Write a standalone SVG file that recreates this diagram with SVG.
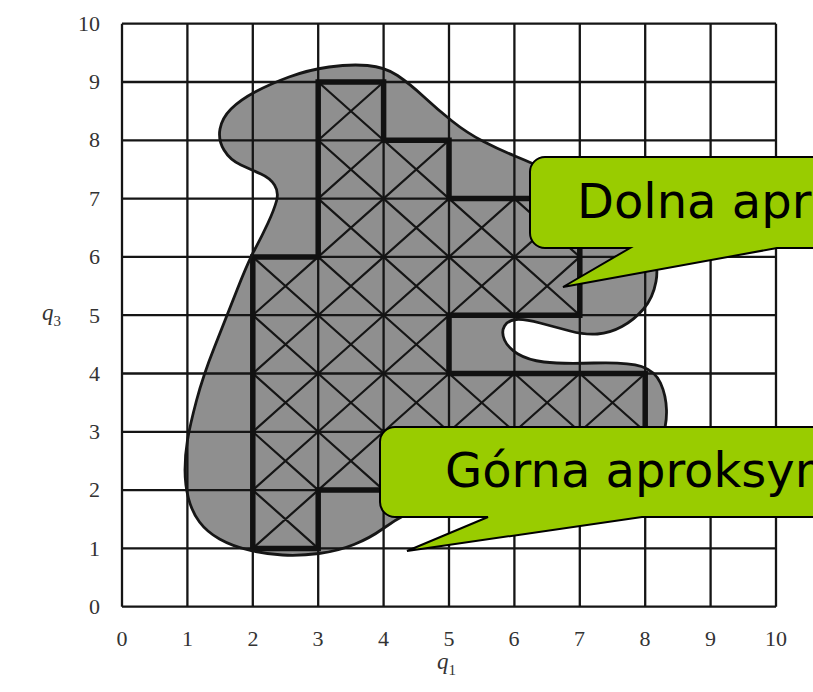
<svg xmlns="http://www.w3.org/2000/svg" width="813" height="692" viewBox="0 0 813 692">
<style>
.tick{font-family:"Liberation Serif","Times New Roman",serif;font-size:22px;fill:#333}
.q{font-family:"Liberation Serif","Times New Roman",serif;font-size:23px;font-style:italic;fill:#333}
.sub{font-size:15px;font-style:normal}
.grid{fill:none;stroke:#151515;stroke-width:2.3}
.diag{fill:none;stroke:#151515;stroke-width:2.2}
.thick{fill:none;stroke:#111;stroke-width:5.5;stroke-linejoin:miter}
.callout{fill:#99cc00;stroke:#000;stroke-width:2;stroke-linejoin:miter}
.ctext{font-family:"DejaVu Sans",Verdana,sans-serif;font-size:48px;fill:#000}
</style>
<defs>
<path id="blob" d="M224,150 Q218,140 220,129 Q222,118 231,109 Q240,100 255,92 Q270,84 289,77 Q308,70 329,67 Q350,64 367.5,65.5 Q385,67 397.5,75.5 Q410,84 423.5,96.5 Q437,109 452,121 Q467,133 483.5,141.5 Q500,150 516,156.5 Q532,163 553.5,173 Q575,183 595,195.5 Q615,208 630,221.5 Q645,235 652,250 Q659,265 656,281.5 Q653,298 643.5,309 Q634,320 622,326.5 Q610,333 597.5,334 Q585,335 570,331 Q555,327 540,323 Q525,319 516.5,319.5 Q508,320 504.5,326 Q501,332 504.5,340 Q508,348 518,354 Q528,360 544,362 Q560,364 594,363 Q628,362 641.5,366.5 Q655,371 660.5,383 Q666,395 666.5,410 Q667,425 661,442.5 Q655,460 635,472 Q615,484 582.5,489.5 Q550,495 510,497.5 Q470,500 445,503.5 Q420,507 407.5,513.5 Q395,520 382.5,529 Q370,538 354,544.5 Q338,551 319,553.5 Q300,556 282.5,555 Q265,554 248.5,550 Q232,546 219.5,539 Q207,532 199.5,522 Q192,512 188.5,498.5 Q185,485 185,470 Q185,455 187.5,440 Q190,425 196.5,400.5 Q203,376 214.5,347 Q226,318 237,290 Q248,262 255,249 Q262,236 268,223 Q274,210 276.5,201 Q279,192 274.5,185 Q270,178 261,174 Q252,170 241,165 Q230,160 224,150 Z"/>
</defs>
<rect id="background" x="0" y="0" width="813" height="692" fill="#ffffff"/>
<g id="region-fill">
<use href="#blob" fill="#8f8f8f" stroke="none"/>
</g>
<g id="grid" transform="translate(122,606.7) scale(65.4,-58.3)">
<path class="grid" vector-effect="non-scaling-stroke" d="M0 0V10M1 0V10M2 0V10M3 0V10M4 0V10M5 0V10M6 0V10M7 0V10M8 0V10M9 0V10M10 0V10M0 0H10M0 1H10M0 2H10M0 3H10M0 4H10M0 5H10M0 6H10M0 7H10M0 8H10M0 9H10M0 10H10"/>
</g>
<g id="lower-approx" transform="translate(122,606.7) scale(65.4,-58.3)">
<path class="diag" vector-effect="non-scaling-stroke" d="M3 8l1 1m0-1l-1 1M3 7l1 1m0-1l-1 1M4 7l1 1m0-1l-1 1M3 6l1 1m0-1l-1 1M4 6l1 1m0-1l-1 1M5 6l1 1m0-1l-1 1M6 6l1 1m0-1l-1 1M2 5l1 1m0-1l-1 1M3 5l1 1m0-1l-1 1M4 5l1 1m0-1l-1 1M5 5l1 1m0-1l-1 1M6 5l1 1m0-1l-1 1M2 4l1 1m0-1l-1 1M3 4l1 1m0-1l-1 1M4 4l1 1m0-1l-1 1M2 3l1 1m0-1l-1 1M3 3l1 1m0-1l-1 1M4 3l1 1m0-1l-1 1M5 3l1 1m0-1l-1 1M6 3l1 1m0-1l-1 1M7 3l1 1m0-1l-1 1M2 2l1 1m0-1l-1 1M3 2l1 1m0-1l-1 1M2 1l1 1m0-1l-1 1"/>
<path class="thick" vector-effect="non-scaling-stroke" d="M3 9H4V8H5V7H7V5H5V4H8V3H4V2H3V1H2V6H3Z"/>
</g>
<g id="region-outline">
<use href="#blob" fill="none" stroke="#161616" stroke-width="2.8"/>
</g>
<g id="y-labels" class="tick" text-anchor="end">
<text x="100" y="31">10</text>
<text x="100" y="89">9</text>
<text x="100" y="147">8</text>
<text x="100" y="206">7</text>
<text x="100" y="264">6</text>
<text x="100" y="323">5</text>
<text x="100" y="381">4</text>
<text x="100" y="439">3</text>
<text x="100" y="497">2</text>
<text x="100" y="556">1</text>
<text x="100" y="614">0</text>
</g>
<g id="x-labels" class="tick" text-anchor="middle">
<text x="122" y="646">0</text>
<text x="187.5" y="646">1</text>
<text x="253" y="646">2</text>
<text x="318" y="646">3</text>
<text x="383.5" y="646">4</text>
<text x="449" y="646">5</text>
<text x="514" y="646">6</text>
<text x="579.5" y="646">7</text>
<text x="645" y="646">8</text>
<text x="710.5" y="646">9</text>
<text x="776" y="646">10</text>
</g>
<g id="axis-titles">
<text class="q" x="42" y="320">q<tspan class="sub" dy="6">3</tspan></text>
<text class="q" x="437" y="669">q<tspan class="sub" dy="6">1</tspan></text>
</g>
<g id="connectors"></g>
<g id="callout-dolna">
<path class="callout" d="M545,157 H830 V248 H777 L563,287 L630,248 H545 A15 15 0 0 1 530 233 V172 A15 15 0 0 1 545 157 Z"/>
<text class="ctext" x="577" y="218">Dolna apr</text>
</g>
<g id="callout-gorna">
<path class="callout" d="M395,427 H830 V517 H642 L407,551 L488,517 H395 A15 15 0 0 1 380 502 V442 A15 15 0 0 1 395 427 Z"/>
<text class="ctext" x="445" y="487">Górna aproksym</text>
</g>
</svg>
